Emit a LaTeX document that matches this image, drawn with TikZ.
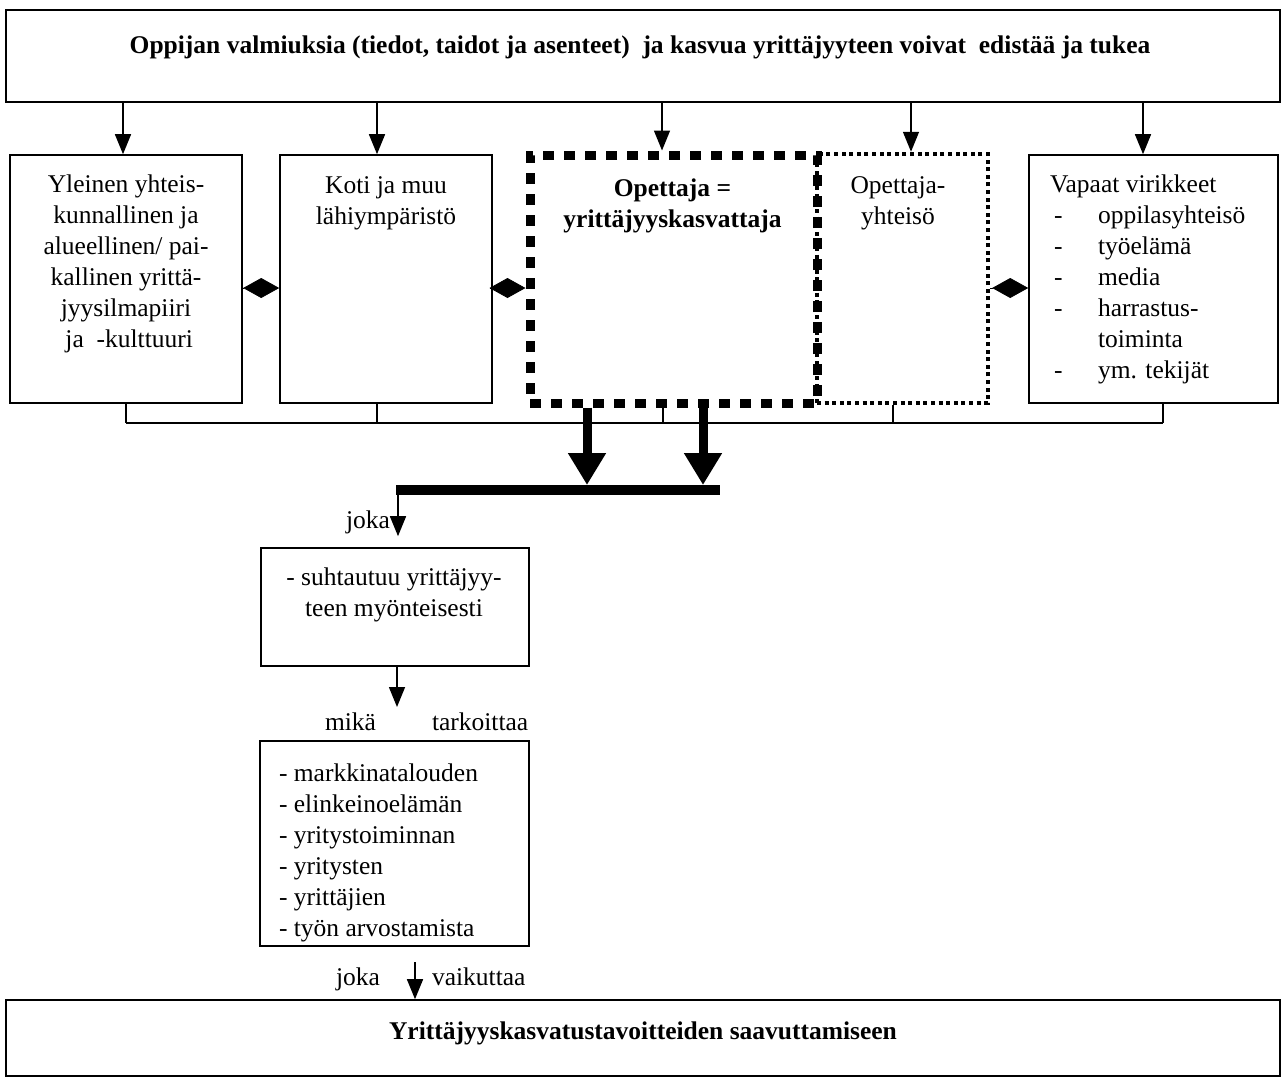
\documentclass[tikz,border=0pt]{standalone}
\usepackage{fontspec}
\setmainfont{Liberation Serif}
\usetikzlibrary{arrows.meta,calc}
\begin{document}
\begin{tikzpicture}[x=1pt,y=-1pt,
  txt/.style={font=\fontsize{25.5}{31}\selectfont, inner sep=0pt, outer sep=0pt},
  btxt/.style={txt, font=\fontsize{25.5}{31}\selectfont\bfseries},
  box/.style={draw, line width=1.6pt, inner sep=0pt},
  thickdash/.style={draw, line width=9pt, dash pattern=on 11pt off 10pt, inner sep=0pt},
  dotbox/.style={draw, line width=4.5pt, dash pattern=on 4pt off 3.6pt, inner sep=0pt},
  link/.style={line width=1.5pt, -{Triangle[length=20pt,width=16pt]}},
  biglink/.style={line width=9pt, -{Triangle[length=32pt,width=36pt]}},
  rel/.style={line width=0.8pt, -{Diamond[length=36pt,width=20pt]}},
  brace/.style={line width=1.3pt}
]
\useasboundingbox (0,0) rectangle (1284,1082);

% boxes
\node[box, minimum width=1274pt, minimum height=92pt] (top) at (643,56) {};
\node[box, minimum width=232pt, minimum height=248pt] (b1) at (126,279) {};
\node[box, minimum width=212pt, minimum height=248pt] (b2) at (386,279) {};
\node[dotbox, minimum width=171pt, minimum height=249pt] (team) at (902.5,278.5) {};
\node[thickdash, minimum width=287pt, minimum height=248pt] (teacher) at (673.5,279) {};
\node[box, minimum width=249pt, minimum height=248pt] (b5) at (1153.5,279) {};
\node[box, minimum width=268pt, minimum height=118pt] (att) at (395,607) {};
\node[box, minimum width=269pt, minimum height=205pt] (val) at (394.5,843.5) {};
\node[box, minimum width=1274pt, minimum height=76pt] (goal) at (643,1038) {};

% texts
\node[btxt, anchor=base] (ttl) at (640,53) {Oppijan valmiuksia (tiedot, taidot ja asenteet)\ \ ja kasvua yrittäjyyteen voivat\ \ edistää ja tukea};
\node[txt, anchor=north, align=center] (t1) at (126,170.3) {\strut Yleinen yhteis-\\kunnallinen ja\\alueellinen/ pai-\\kallinen yrittä-\\jyysilmapiiri\\\ ja\ \ -kulttuuri};
\node[txt, anchor=north, align=center] (t2) at (386,171.3) {\strut Koti ja muu\\lähiympäristö};
\node[btxt, anchor=north, align=center] (t3) at (672.5,174.3) {\strut Opettaja =\\yrittäjyyskasvattaja};
\node[txt, anchor=north, align=center] (t4) at (898,171.3) {\strut Opettaja-\\yhteisö};
\node[txt, anchor=north west, align=left] (t5) at (1050,170.3) {\strut Vapaat virikkeet\\
\makebox[48pt][l]{\hspace{4pt}-}oppilasyhteisö\\
\makebox[48pt][l]{\hspace{4pt}-}työelämä\\
\makebox[48pt][l]{\hspace{4pt}-}media\\
\makebox[48pt][l]{\hspace{4pt}-}harrastus-\\
\hspace*{48pt}toiminta\\
\makebox[48pt][l]{\hspace{4pt}-}ym. tekijät};
\node[txt, anchor=north, align=center] (t6) at (394,563.3) {\strut - suhtautuu yrittäjyy-\\teen myönteisesti};
\node[txt, anchor=north west, align=left] (t7) at (279,759.3) {\strut - markkinatalouden\\- elinkeinoelämän\\- yritystoiminnan\\- yritysten\\- yrittäjien\\- työn arvostamista};
\node[btxt, anchor=base] (t8) at (643,1039) {Yrittäjyyskasvatustavoitteiden saavuttamiseen};

% labels beside the connectors
\node[txt, anchor=base east] (l1) at (390,528) {joka};
\node[txt, anchor=base east] (l2) at (376,730) {mikä};
\node[txt, anchor=base west] (l3) at (432,730) {tarkoittaa};
\node[txt, anchor=base east] (l4) at (380,985) {joka};
\node[txt, anchor=base west] (l5) at (432,985) {vaikuttaa};

% arrows from the top box
\draw[link] (123,0 |- top.south) -- (123,0 |- b1.north);
\draw[link] (377,0 |- top.south) -- (377,0 |- b2.north);
\draw[link] (662,0 |- top.south) -- (662,0 |- teacher.north);
\draw[link] (911,0 |- top.south) -- (911,0 |- team.north);
\draw[link] (1143,0 |- top.south) -- (1143,0 |- b5.north);

% relations between neighbouring boxes
\draw[rel] (b1.east |- 0,288) -- (b2.west |- 0,288);
\draw[rel] (b2.east |- 0,288) -- (teacher.west |- 0,288);
\draw[rel] (team.east |- 0,288) -- (b5.west |- 0,288);

% bracket joining the row of boxes
\coordinate (brL) at (126,423);
\coordinate (brR) at (1163,423);
\draw[brace] (brL) -- (brR);
\draw[brace] (b1.south) -- (brL);
\draw[brace] (377,0 |- b2.south) -- (377,0 |- brL);
\draw[brace] (663,0 |- teacher.south) -- (663,0 |- brL);
\draw[brace] (893,0 |- team.south) -- (893,0 |- brL);
\draw[brace] (1163,0 |- b5.south) -- (brR);

% thick arrows onto the collecting bar
\coordinate (barL) at (396,490);
\coordinate (barR) at (720,490);
\draw[line width=10pt] (barL) -- (barR);
\draw[biglink] (587,0 |- teacher.south) -- (587,485);
\draw[biglink] (703,0 |- teacher.south) -- (703,485);

% chain downwards
\draw[link] ($(barL)+(2,5)$) -- ($(barL |- att.north)+(2,-11)$);
\coordinate (m1) at (397,707);
\draw[link] (m1 |- att.south) -- (m1);
\coordinate (m2) at (415,962);
\draw[link] (m2) -- (m2 |- goal.north);
\end{tikzpicture}
\end{document}
